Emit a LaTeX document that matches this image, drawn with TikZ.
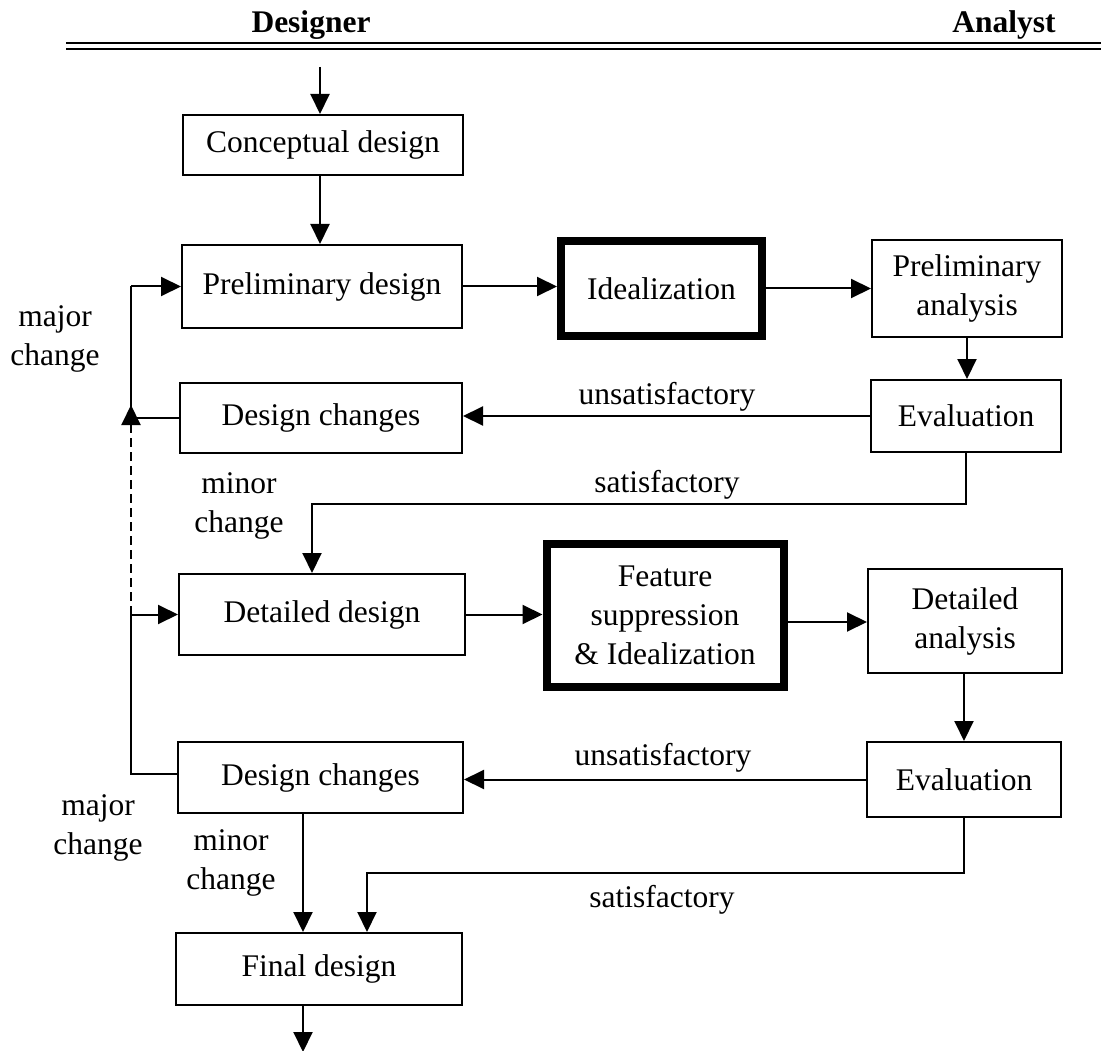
\documentclass[tikz,border=0pt]{standalone}
\usepackage{fontspec}
\setmainfont{Liberation Serif}
\usetikzlibrary{arrows.meta,calc}
\begin{document}
\begin{tikzpicture}[x=1pt,y=-1pt,
  txt/.style={font=\fontsize{31.5}{39}\selectfont, align=center, inner sep=0pt},
  box/.style={txt, draw, line width=2pt},
  thickbox/.style={box, line width=8pt},
  ln/.style={line width=2pt},
  arr/.style={ln, -{Triangle[length=20pt,width=19pt]}},
  hdr/.style={font=\fontsize{31.5}{39}\selectfont\bfseries, inner sep=0pt, anchor=base}]
\useasboundingbox (0,0) rectangle (1101,1051);
% header
\node[hdr] (designer) at (311,33) {Designer};
\node[hdr] (analyst) at (1004,33) {Analyst};
\draw[line width=2.5pt] (66,43) -- (1101,43);
\draw[line width=2.5pt] (66,49) -- (1101,49);
% boxes
\node[box, minimum width=280, minimum height=60] (concept) at (323,145) {Conceptual design};
\node[box, minimum width=280, minimum height=83] (prelim) at (322,286.5) {Preliminary design};
\node[thickbox, minimum width=201, minimum height=95] (ideal) at (661.5,288.5) {Idealization};
\node[box, minimum width=190, minimum height=97] (panal) at (967,288.5) {Preliminary\\analysis};
\node[box, minimum width=190, minimum height=72] (eval1) at (966,416) {Evaluation};
\node[box, minimum width=282, minimum height=70] (dc1) at (321,418) {Design changes};
\node[box, minimum width=286, minimum height=81] (detd) at (322,614.5) {Detailed design};
\node[thickbox, minimum width=237, minimum height=143] (feat) at (665,615) {Feature\\suppression\\\& Idealization};
\node[box, minimum width=194, minimum height=104] (dana) at (965,621) {Detailed\\analysis};
\node[box, minimum width=194, minimum height=75] (eval2) at (964,779.5) {Evaluation};
\node[box, minimum width=285, minimum height=71] (dc2) at (320.5,777.5) {Design changes};
\node[box, minimum width=286, minimum height=72] (final) at (319,969) {Final design};
% labels
\node[txt] (lmaj1) at (55,338.5) {major\\change};
\node[txt] (lmin1) at (239,506) {minor\\change};
\node[txt] (lmaj2) at (98,827.5) {major\\change};
\node[txt] (lmin2) at (231,862.5) {minor\\change};
\node[txt] (lun1) at (667,397) {unsatisfactory};
\node[txt] (lsat1) at (667,485) {satisfactory};
\node[txt] (lun2) at (663,758) {unsatisfactory};
\node[txt] (lsat2) at (662,900) {satisfactory};
% coordinates
\coordinate (bus) at (131,0);
\coordinate (start) at (320,67);
\coordinate (s1) at (312,504);
\coordinate (s2) at (367,873);
\coordinate (m2) at (303,0);
\coordinate (tip) at (131,405);
\coordinate (yfd) at (0,622);
\coordinate (ydc2) at (0,774);
% connectors
\draw[arr] (start) -- (start |- concept.north);
\draw[arr] (start |- concept.south) -- (start |- prelim.north);
\draw[arr] (prelim.east) -- (prelim.east -| ideal.west);
\draw[arr] (ideal.east) -- (ideal.east -| panal.west);
\draw[arr] (panal.south) -- (panal.south |- eval1.north);
\draw[arr] (eval1.west) -- (eval1.west -| dc1.east);
\draw[arr] (eval1.south) |- (s1) -- (s1 |- detd.north);
\draw[ln] (dc1.west) -- (dc1.west -| bus) -- (prelim.west -| bus);
\draw[arr] (prelim.west -| bus) -- (prelim.west);
\draw[arr] (detd.east) -- (detd.east -| feat.west);
\draw[arr] (feat.east |- yfd) -- (dana.west |- yfd);
\draw[arr] (dana.south -| eval2.north) -- (eval2.north);
\draw[arr] (eval2.west) -- (eval2.west -| dc2.east);
\draw[ln] (dc2.west |- ydc2) -- (bus |- ydc2) -- (detd.west -| bus);
\draw[arr] (detd.west -| bus) -- (detd.west);
\draw[arr, dash pattern=on 9pt off 5pt] (detd.west -| bus) -- (tip);
\draw[arr] (eval2.south) |- (s2) -- (s2 |- final.north);
\draw[arr] (m2 |- dc2.south) -- (m2 |- final.north);
\draw[arr] (m2 |- final.south) -- ++(0,46);
\end{tikzpicture}
\end{document}
